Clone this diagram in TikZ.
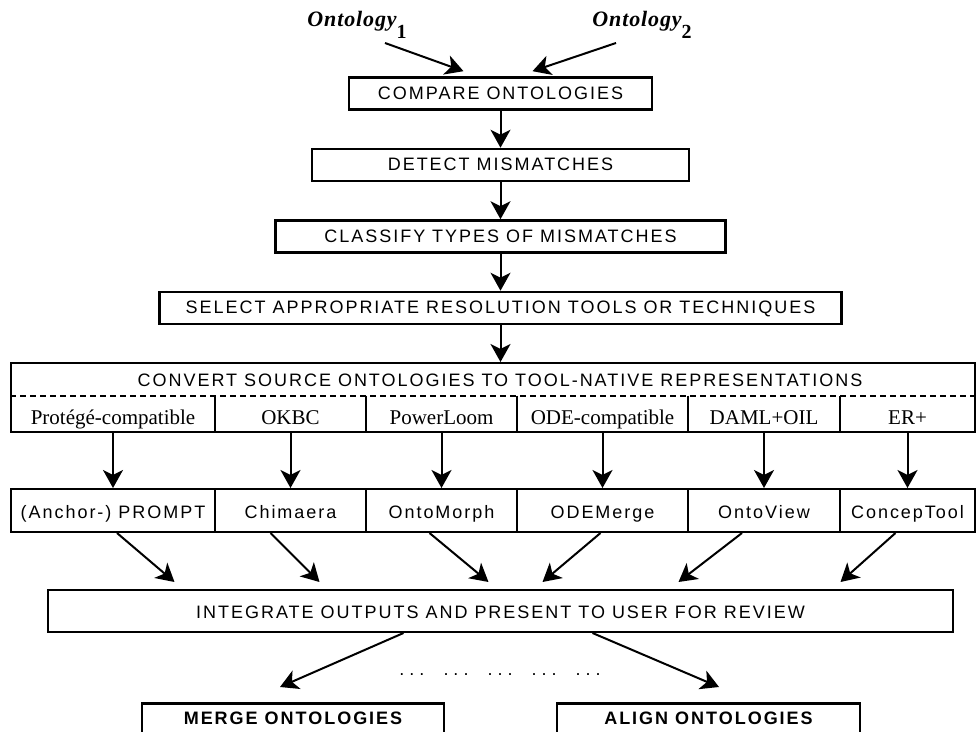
\documentclass[tikz,border=0pt]{standalone}
\usepackage{fontspec}
\setmainfont{Liberation Serif}
\newfontfamily\boxfont[LetterSpace=11]{Liberation Sans}
\newfontfamily\ontfont[LetterSpace=4]{Liberation Serif}
\usetikzlibrary {arrows.meta}
\usetikzlibrary {calc}
\newcommand\dotgroup{.\hspace{2.5pt}.\hspace{2.5pt}.}

\begin{document}
\begin{tikzpicture} [
        x=0.5pt, y=0.5pt,
        >={Stealth[length=9pt, width=10pt, inset=2.5pt]},
        task/.style={draw, line width=1.3pt, inner sep=0pt, minimum height=16pt, text height=6.5pt, text depth=0.5pt, font=\boxfont\fontsize{9}{11}\selectfont},
        tool/.style={draw, line width=1pt, inner sep=0pt, minimum height=21.5pt, text height=7.5pt, text depth=0pt, font=\boxfont\fontsize{9}{11}\selectfont},
        cell/.style={inner sep=0pt, minimum height=18pt, text height=10pt, text depth=0pt, font=\fontsize{10.5}{12}\selectfont},
        result/.style={draw, line width=1.3pt, anchor=north, inner xsep=0pt, inner ysep=4pt, text height=6.75pt, text depth=14pt, font=\boxfont\bfseries\fontsize{9}{11}\selectfont},
        onto/.style={anchor=base west, inner sep=0pt, font=\ontfont\bfseries\itshape\fontsize{11}{13}\selectfont},
        flow/.style={->, line width=1pt},
        node distance=35.75pt ]
    \clip (0,0) rectangle (979,-732);
    \node[onto] (ont1) at (307,-27) {Ontology\raisebox{-6pt}{\upshape\fontsize{10}{12}\selectfont 1}};
    \node[onto] (ont2) at (592,-27) {Ontology\raisebox{-6pt}{\upshape\fontsize{10}{12}\selectfont 2}};
    \node[task, minimum width=151.5pt] (cmp) at (500.5,-93.5) {COMPARE ONTOLOGIES};
    \draw[flow] ($(ont1.base west)+(78,-16)$) -- ($(cmp.north)+(-37,5)$);
    \draw[flow] ($(ont2.base west)+(24,-16)$) -- ($(cmp.north)+(32,5)$);
    \node[task, below of=cmp, minimum width=188.5pt] (det) {DETECT MISMATCHES};
    \draw[flow] (cmp) -- (det);
    \node[task, below of=det, minimum width=225pt] (cls) {CLASSIFY TYPES OF MISMATCHES};
    \draw[flow] (det) -- (cls);
    \node[task, below of=cls, minimum width=341pt] (sel) {SELECT APPROPRIATE RESOLUTION TOOLS OR TECHNIQUES};
    \draw[flow] (cls) -- (sel);
    % conversion box with one cell per representation
    \node[draw, line width=1pt, inner sep=0pt, minimum width=482pt, minimum height=34.5pt] (conv) at (493,-397.5) {};
    \node[font=\boxfont\fontsize{9}{11}\selectfont] (convtitle) at (500,-380) {CONVERT SOURCE ONTOLOGIES TO TOOL-NATIVE REPRESENTATIONS};
    \draw[flow] (sel.south) -- (sel.south |- conv.north);
    \coordinate (cut) at (0,-396);
    \draw[line width=1pt, dash pattern=on 3pt off 2pt] (conv.west |- cut) -- (conv.east |- cut);
    \foreach \n/\l/\r/\s/\t in {1/11/215/Protégé-compatible/(Anchor-) PROMPT, 2/215/366/OKBC/Chimaera, 3/366/517/PowerLoom/OntoMorph, 4/517/688/ODE-compatible/ODEMerge, 5/688/840/DAML+OIL/OntoView, 6/840/975/ER+/ConcepTool} {
        \node[cell, minimum width={(\r-\l)*0.5pt}] (src\n) at ({(\l+\r)/2},-414) {\s};
        \node[tool, minimum width={(\r-\l)*0.5pt}] (tool\n) at ({(\l+\r)/2},-510.5) {\t};
        \draw[flow] (src\n.south) -- (tool\n.north);
    }
    \foreach \n in {1,...,5}
        \draw[line width=1pt] (src\n.north east) -- (src\n.south east);
    \node[tool, minimum width=452.5pt, minimum height=21pt] (integ) at (500.5,-611) {INTEGRATE OUTPUTS AND PRESENT TO USER FOR REVIEW};
    \foreach \n/\a/\b in {1/4/-326, 2/-20/-181, 3/-12/-12, 4/-2/42, 5/-22/178, 6/-12/340}
        \draw[flow] ($(tool\n.south)+(\a,0)$) -- ($(integ.north)+(\b,7)$);
    \node[font=\boxfont\fontsize{9}{11}\selectfont] (dots) at (500,-675) {\dotgroup\hspace{9.5pt}\dotgroup\hspace{9.5pt}\dotgroup\hspace{9.5pt}\dotgroup\hspace{9.5pt}\dotgroup};
    \node[result, minimum width=151pt] (merge) at (293,-702) {MERGE ONTOLOGIES};
    \node[result, minimum width=151.5pt] (align) at (708.5,-702) {ALIGN ONTOLOGIES};
    \draw[flow] ($(integ.south)+(-97,0)$) -- ($(merge.north)+(-13,15)$);
    \draw[flow] ($(integ.south)+(92,0)$) -- ($(align.north)+(10.5,15)$);
\end{tikzpicture}
\end{document}
